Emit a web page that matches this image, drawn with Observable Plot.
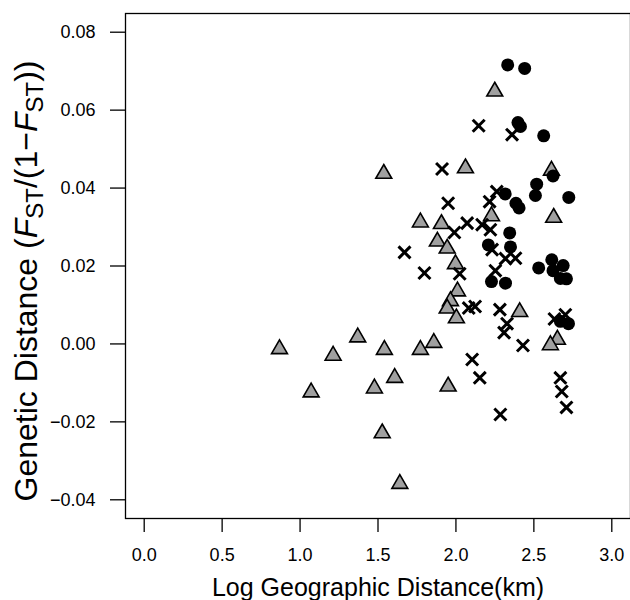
<!DOCTYPE html>
<html><head><meta charset="utf-8">
<script src="https://cdn.jsdelivr.net/npm/d3@7"></script>
<script src="https://cdn.jsdelivr.net/npm/@observablehq/plot@0.6"></script>
<style>body{margin:0;background:#fff} svg{display:block}</style>
</head><body><div id="chart"></div>
<script>
// Gray triangles
const triangleX = [0.868,1.071,1.212,1.370,1.477,1.541,1.537,1.527,1.607,1.640,1.772,1.858,1.772,1.907,1.881,1.944,1.997,2.010,1.965,1.944,2.003,1.950,2.061,2.249,2.228,2.627,2.613,2.409,2.651,2.606];
const triangleY = [-0.0013,-0.0124,-0.0030,0.0017,-0.0114,-0.0015,0.0437,-0.0229,-0.0087,-0.0359,-0.0015,0.0003,0.0312,0.0308,0.0263,0.0245,0.0205,0.0135,0.0110,0.0091,0.0066,-0.0109,0.0451,0.0648,0.0328,0.0324,0.0445,0.0082,0.0011,-0.0003];
// Crosses
const crossX = [2.146,2.360,1.911,1.950,2.072,1.990,2.168,2.221,2.262,2.216,2.232,1.670,2.318,2.382,2.253,1.798,2.024,2.082,2.123,2.282,2.328,2.309,2.632,2.702,2.430,2.104,2.153,2.285,2.670,2.679,2.709];
const crossY = [0.0560,0.0537,0.0449,0.0361,0.0310,0.0286,0.0306,0.0293,0.0391,0.0365,0.0242,0.0235,0.0219,0.0220,0.0188,0.0182,0.0180,0.0092,0.0096,0.0088,0.0052,0.0029,0.0064,0.0075,-0.0004,-0.0040,-0.0087,-0.0181,-0.0087,-0.0122,-0.0163];
// Black circles
const circleX = [2.332,2.441,2.398,2.414,2.563,2.623,2.518,2.510,2.724,2.316,2.385,2.405,2.345,2.208,2.350,2.531,2.615,2.688,2.623,2.670,2.709,2.228,2.318,2.670,2.722];
const circleY = [0.0716,0.0707,0.0568,0.0558,0.0534,0.0431,0.0410,0.0381,0.0376,0.0385,0.0361,0.0349,0.0285,0.0254,0.0249,0.0195,0.0216,0.0201,0.0188,0.0168,0.0167,0.0160,0.0156,0.0058,0.0052];

const xTicks = [0, 0.5, 1.0, 1.5, 2.0, 2.5, 3.0];
const yTicks = [-0.04, -0.02, 0.00, 0.02, 0.04, 0.06, 0.08];
const xTitle = "Log Geographic Distance(km)";

const tri = triangleX.map((x, i) => ({x, y: triangleY[i]}));
const crs = crossX.map((x, i) => ({x, y: crossY[i]}));
const cir = circleX.map((x, i) => ({x, y: circleY[i]}));

const plot = Plot.plot({
  width: 630, height: 600,
  marginLeft: 125, marginRight: 0, marginTop: 13, marginBottom: 82,
  style: {fontFamily: "'Liberation Sans', Arial, sans-serif", fontSize: "18px", background: "white", color: "black"},
  x: {domain: [-0.12, 3.12], ticks: xTicks, tickFormat: d3.format(".1f"), tickSize: 14, tickPadding: 16, label: null},
  y: {domain: [-0.0448, 0.0848], ticks: yTicks, tickFormat: d3.format(".2f"), tickSize: 15, tickPadding: 15, label: null},
  marks: [
    Plot.frame({stroke: "black", strokeWidth: 1.3}),
    Plot.dot(tri, {x: "x", y: "y", symbol: "triangle", r: 5.9, fill: "#a0a0a0", stroke: "black", strokeWidth: 1.6}),
    Plot.dot(cir, {x: "x", y: "y", r: 6.5, fill: "black", stroke: "none"}),
    Plot.dot(crs, {x: "x", y: "y", symbol: "times", r: 5.5, stroke: "black", strokeWidth: 3})
  ]
});

const svg = d3.select(plot);
svg.selectAll("[aria-label$='tick']").attr("stroke-width", 1.3);
svg.append("text")
  .attr("x", 378).attr("y", 596)
  .attr("text-anchor", "middle").attr("font-size", 25).attr("fill", "black")
  .text(xTitle);
const t = svg.append("text")
  .attr("transform", "translate(37,281) rotate(-90)")
  .attr("text-anchor", "middle").attr("font-size", 32).attr("fill", "black");
t.append("tspan").text("Genetic Distance (");
t.append("tspan").attr("font-style", "italic").text("F");
t.append("tspan").attr("font-size", 24).attr("dy", 6).text("ST");
t.append("tspan").attr("dy", -6).text("/(1\u2212");
t.append("tspan").attr("font-style", "italic").text("F");
t.append("tspan").attr("font-size", 24).attr("dy", 6).text("ST");
t.append("tspan").attr("dy", -6).text("))");

document.getElementById("chart").appendChild(plot);
</script>
</body></html>
